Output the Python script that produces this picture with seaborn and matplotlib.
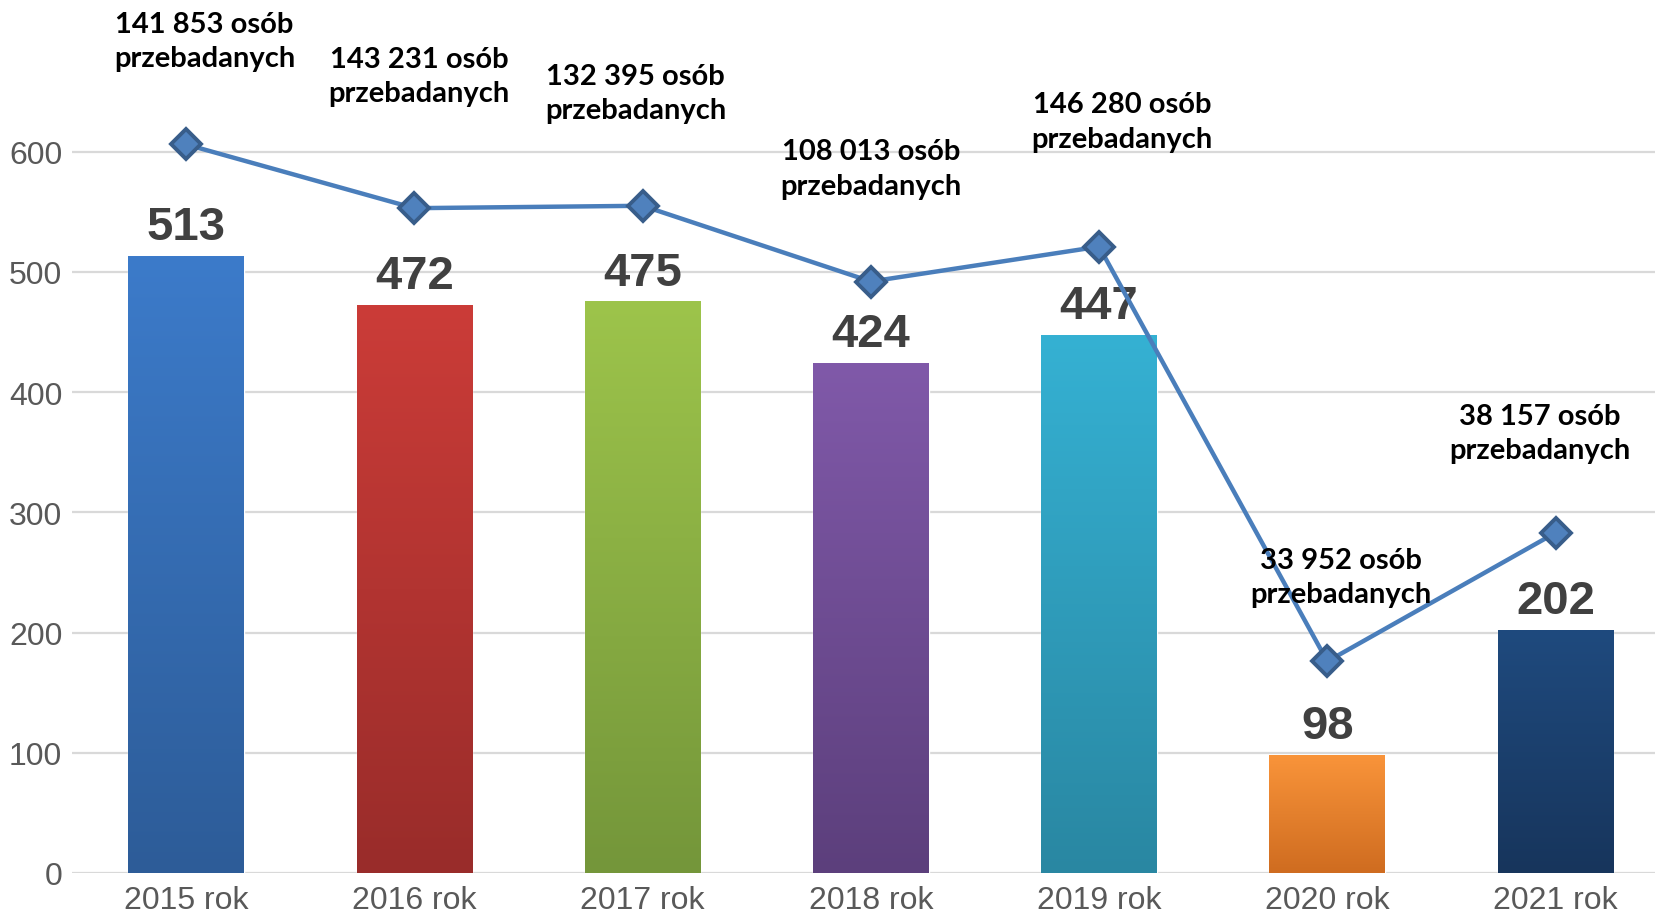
import numpy as np
import pandas as pd
import matplotlib
matplotlib.use("Agg")
import matplotlib.pyplot as plt
import seaborn as sns
from matplotlib.colors import LinearSegmentedColormap

years = ["2015 rok", "2016 rok", "2017 rok", "2018 rok", "2019 rok", "2020 rok", "2021 rok"]
counts = [513, 472, 475, 424, 447, 98, 202]
# line sits on a hidden secondary scale; levels in primary units
line_level = [606, 553, 555, 492, 521, 176, 283]
persons = ["141 853", "143 231", "132 395", "108 013", "146 280", "33 952", "38 157"]

top_colors = ["#3C7BCA", "#CB3C38", "#9DC44B", "#8059A9", "#35B1D3", "#F9943A", "#1F4A7E"]
bottom_colors = ["#2D5C98", "#992C2A", "#74963A", "#5C3F7C", "#2987A2", "#CF6C20", "#17355C"]

# caption centres (data units)
cap_x = [0.08, 1.02, 1.97, 3.0, 4.1, 5.06, 5.93]
cap_y = [692, 663, 649, 586, 625, 246, 366]

df = pd.DataFrame({"rok": years, "liczba": counts})

sns.set_style("white")
plt.rcParams["font.family"] = ["Liberation Sans", "DejaVu Sans"]

fig = plt.figure(figsize=(16.56, 9.12), dpi=100)
ax = fig.add_axes([0.0435, 0.0417, 0.9565, 0.9583])

sns.barplot(data=df, x="rok", y="liczba", hue="rok", palette=top_colors,
            width=0.507, saturation=1, legend=False, ax=ax)

# vertical gradient on each bar
grad = np.linspace(0, 1, 256).reshape(-1, 1)
for i, p in enumerate(ax.patches):
    cmap = LinearSegmentedColormap.from_list("g%d" % i, [bottom_colors[i], top_colors[i]])
    x0 = p.get_x()
    w = p.get_width()
    h = p.get_height()
    ax.imshow(grad, cmap=cmap, origin="lower", aspect="auto",
              extent=[x0, x0 + w, 0, h], zorder=2.1)

ax.plot(np.arange(len(years)), line_level, color="#4A7EBB", lw=3.2,
        marker="D", markersize=15, markerfacecolor="#4F81BD",
        markeredgecolor="#385D8A", markeredgewidth=2.8, zorder=4)

for i, v in enumerate(counts):
    ax.annotate(str(v), (i, v), xytext=(0, 21), textcoords="offset points",
                ha="center", va="center", fontsize=34, fontweight="bold",
                color="#404040", zorder=3)

for i in range(len(years)):
    ax.text(cap_x[i], cap_y[i], persons[i] + " osób\nprzebadanych",
            ha="center", va="center", fontsize=21, fontweight="bold",
            family=["Lato", "DejaVu Sans"], color="black", linespacing=1.4, zorder=5)

ax.set_xlim(-0.5, 6.44)
ax.set_ylim(0, 727)
ax.set_yticks(range(0, 700, 100))
ax.yaxis.grid(True, color="#D9D9D9", lw=1.6)
ax.set_axisbelow(True)
for s in ax.spines.values():
    s.set_visible(False)
ax.tick_params(axis="both", length=0, labelsize=23, colors="#595959")
ax.tick_params(axis="y", pad=7)
ax.tick_params(axis="x", pad=9)
ax.set_xlabel("")
ax.set_ylabel("")

fig.savefig("out.png", dpi=100)
